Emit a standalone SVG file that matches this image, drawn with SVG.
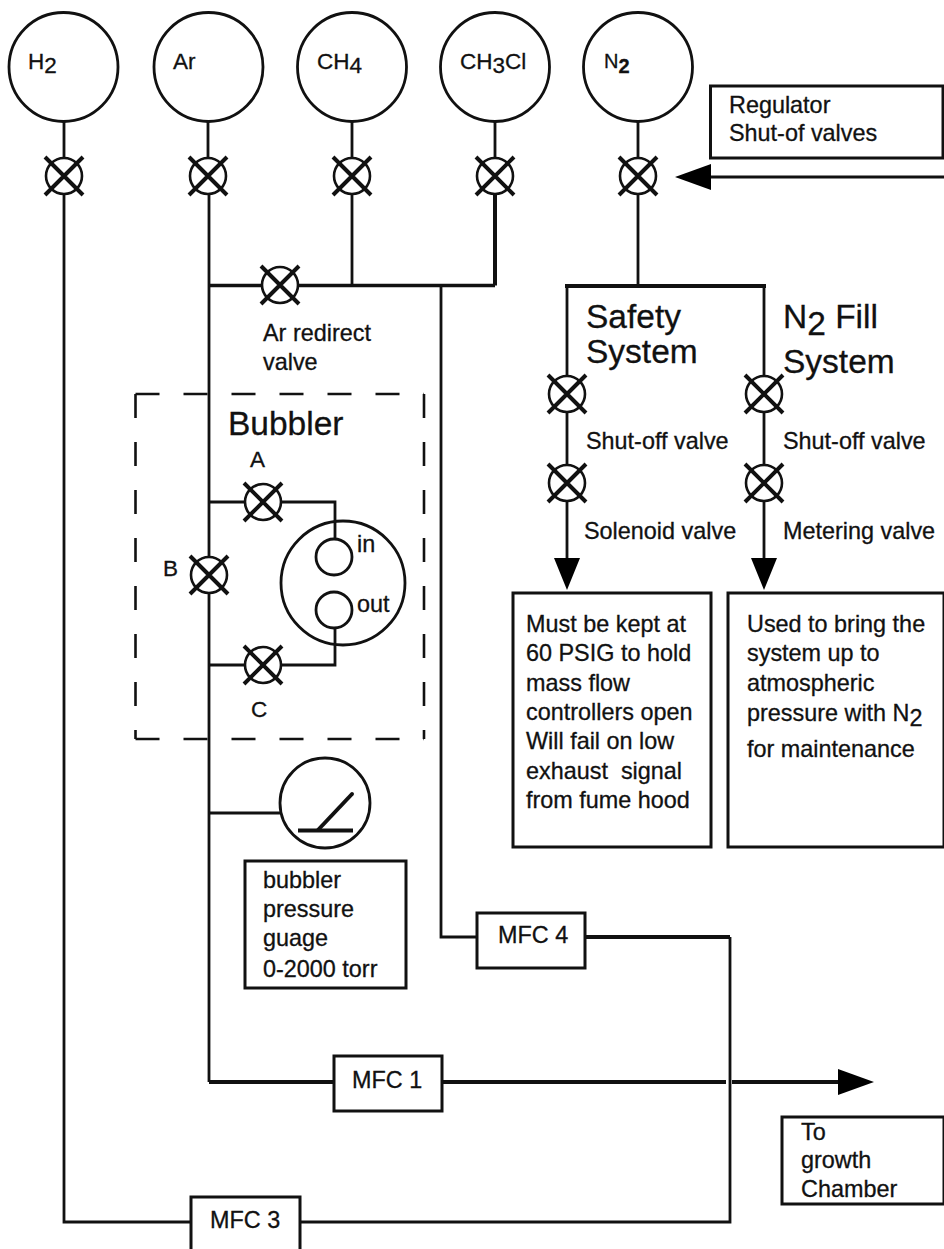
<svg xmlns="http://www.w3.org/2000/svg" width="944" height="1249" viewBox="0 0 944 1249">
<style>
text{font-family:"Liberation Sans",Arial,sans-serif;font-size:23.4px;fill:#111;stroke:#111;stroke-width:.3px;white-space:pre}
.gas{font-size:22.5px}
.big{font-size:33.5px}
.small{font-size:22.5px}
.box{fill:none;stroke:#111;stroke-width:3}
.ln{fill:none;stroke:#111;stroke-width:2.8}
.thick{fill:none;stroke:#111;stroke-width:4}
.dash{fill:none;stroke:#111;stroke-width:2.6;stroke-dasharray:24 24}
.ring{fill:#fff;stroke:#111;stroke-width:2.8}
.head{fill:#000}
</style>
<defs>
<g id="valve">
<circle r="18" fill="#fff" stroke="#111" stroke-width="2.6"/>
<path d="M-19-19L19 19M19-19L-19 19" fill="none" stroke="#111" stroke-width="4"/>
</g>
</defs>
<rect width="944" height="1249" fill="#fff"/>
<g id="connectors">
<path class="ln" d="M64 121V158M208 121V158M352 121V158M495 121V158M638 121V158"/>
<path class="ln" d="M64 194V1222H191"/>
<path class="ln" d="M209 194V1082"/>
<path class="ln" d="M352 194V285"/>
<path class="thick" d="M495 194V285.500"/>
<path class="ln" d="M495 285.500H209" style="stroke-width:3.400"/>
<path class="ln" d="M441 285V937H477"/>
<path class="ln" d="M638 194V285"/>
<path class="thick" d="M565 286H766"/>
<path class="ln" d="M567 286V558M764 286V558"/>
<path class="ln" d="M710 177H944" style="stroke-width:3"/>
<path class="head" d="M675 177L711 164V190Z"/>
<path class="head" d="M567 590L554 558H580ZM764 590L751 558H777Z"/>
<path class="ln" d="M209 502H335V539M209 665H335V628"/>
<path class="ln" d="M209 813H281"/>
<path class="thick" d="M585 937H730"/>
<path class="ln" d="M730 937V1222H300"/>
<path class="thick" d="M209 1082H334M442 1082H726M732 1082H838"/>
<path class="head" d="M874 1082L838 1069V1095Z"/>
</g>
<g id="bubbler-frame">
<path class="dash" d="M135.500 394H424"/>
<path class="dash" d="M135.500 394V739"/>
<path class="dash" d="M424 394V739"/>
<path class="dash" d="M135.500 739H424"/>
<text class="big" x="228" y="435">Bubbler</text>
</g>
<g id="tank-h2"><circle class="ring" cx="63.500" cy="67" r="54.500"/><text class="gas" x="28" y="69">H<tspan dy="4">2</tspan></text></g>
<g id="tank-ar"><circle class="ring" cx="208.500" cy="67" r="54.500"/><text class="gas" x="173" y="69">Ar</text></g>
<g id="tank-ch4"><circle class="ring" cx="352" cy="67" r="54.500"/><text class="gas" x="317" y="69">CH<tspan dy="4">4</tspan></text></g>
<g id="tank-ch3cl"><circle class="ring" cx="495" cy="67" r="54.500"/><text class="gas" x="460" y="69">CH<tspan dy="4">3</tspan><tspan dy="-4">Cl</tspan></text></g>
<g id="tank-n2"><circle class="ring" cx="638" cy="67" r="54.500"/><text class="gas" x="604" y="68" style="font-size:20px">N<tspan dy="5" font-weight="bold">2</tspan></text></g>
<g id="valve-h2"><use href="#valve" x="64" y="176"/></g>
<g id="valve-ar"><use href="#valve" x="208" y="176"/></g>
<g id="valve-ch4"><use href="#valve" x="352" y="176"/></g>
<g id="valve-ch3cl"><use href="#valve" x="495" y="176"/></g>
<g id="valve-n2"><use href="#valve" x="638" y="176"/></g>
<g id="valve-redirect"><use href="#valve" x="280" y="285"/>
<text x="263" y="341">Ar redirect</text><text x="263" y="370">valve</text></g>
<g id="regulator"><rect class="box" x="710.500" y="86" width="232.500" height="72"/>
<text x="729" y="113">Regulator</text><text x="729" y="141">Shut-of valves</text></g>
<g id="safety-label"><text class="big" x="586" y="328">Safety</text><text class="big" x="586" y="363">System</text></g>
<g id="fill-label"><text class="big" x="783" y="328">N<tspan dy="7">2</tspan><tspan dy="-7"> Fill</tspan></text><text class="big" x="783" y="373">System</text></g>
<g id="valve-safety-shutoff"><use href="#valve" x="567" y="394"/><text x="586" y="449">Shut-off valve</text></g>
<g id="valve-fill-shutoff"><use href="#valve" x="764" y="394"/><text x="783" y="449">Shut-off valve</text></g>
<g id="valve-solenoid"><use href="#valve" x="567" y="483"/><text x="584" y="539">Solenoid valve</text></g>
<g id="valve-metering"><use href="#valve" x="764" y="483"/><text x="783" y="539">Metering valve</text></g>
<g id="safety-note"><rect class="box" x="513" y="593" width="198" height="254"/>
<text x="526" y="632">Must be kept at</text><text x="526" y="661">60 PSIG to hold</text><text x="526" y="691">mass flow</text><text x="526" y="720">controllers open</text><text x="526" y="749">Will fail on low</text><text x="526" y="779">exhaust  signal</text><text x="526" y="808">from fume hood</text></g>
<g id="fill-note"><rect class="box" x="728" y="593" width="216" height="254"/>
<text x="747" y="632">Used to bring the</text><text x="747" y="661">system up to</text><text x="747" y="691">atmospheric</text><text x="747" y="721">pressure with N<tspan dy="5">2</tspan></text><text x="747" y="757">for maintenance</text></g>
<g id="valve-a"><use href="#valve" x="263" y="502"/><text class="small" x="250" y="467">A</text></g>
<g id="valve-b"><use href="#valve" x="209" y="575"/><text class="small" x="163" y="576">B</text></g>
<g id="valve-c"><use href="#valve" x="263" y="665"/><text class="small" x="251" y="717">C</text></g>
<g id="bubbler-vessel"><circle cx="343" cy="583" r="62" fill="none" stroke="#111" stroke-width="2.8"/>
<circle class="ring" cx="334" cy="557" r="18"/><circle class="ring" cx="334" cy="610" r="18"/>
<text x="357" y="552">in</text><text x="357" y="612">out</text></g>
<g id="gauge"><circle class="ring" cx="325" cy="803" r="45"/><path class="thick" d="M318 830L352 794" stroke-linecap="round"/><path class="thick" d="M298 830.500H353"/></g>
<g id="gauge-note"><rect class="box" x="245" y="861" width="161" height="127"/>
<text x="263" y="888">bubbler</text><text x="263" y="917">pressure</text><text x="263" y="946">guage</text><text x="263" y="977">0-2000 torr</text></g>
<g id="mfc4"><rect class="box" x="477" y="913" width="108" height="55"/><text x="498" y="943">MFC 4</text></g>
<g id="mfc1"><rect class="box" x="334" y="1056" width="108" height="55"/><text x="352" y="1088">MFC 1</text></g>
<g id="mfc3"><path class="box" d="M191 1249V1197H300V1249"/><text x="210" y="1228">MFC 3</text></g>
<g id="chamber"><rect class="box" x="782" y="1117" width="162" height="87"/><text x="801" y="1140">To</text><text x="801" y="1168">growth</text><text x="801" y="1197">Chamber</text></g>
</svg>
